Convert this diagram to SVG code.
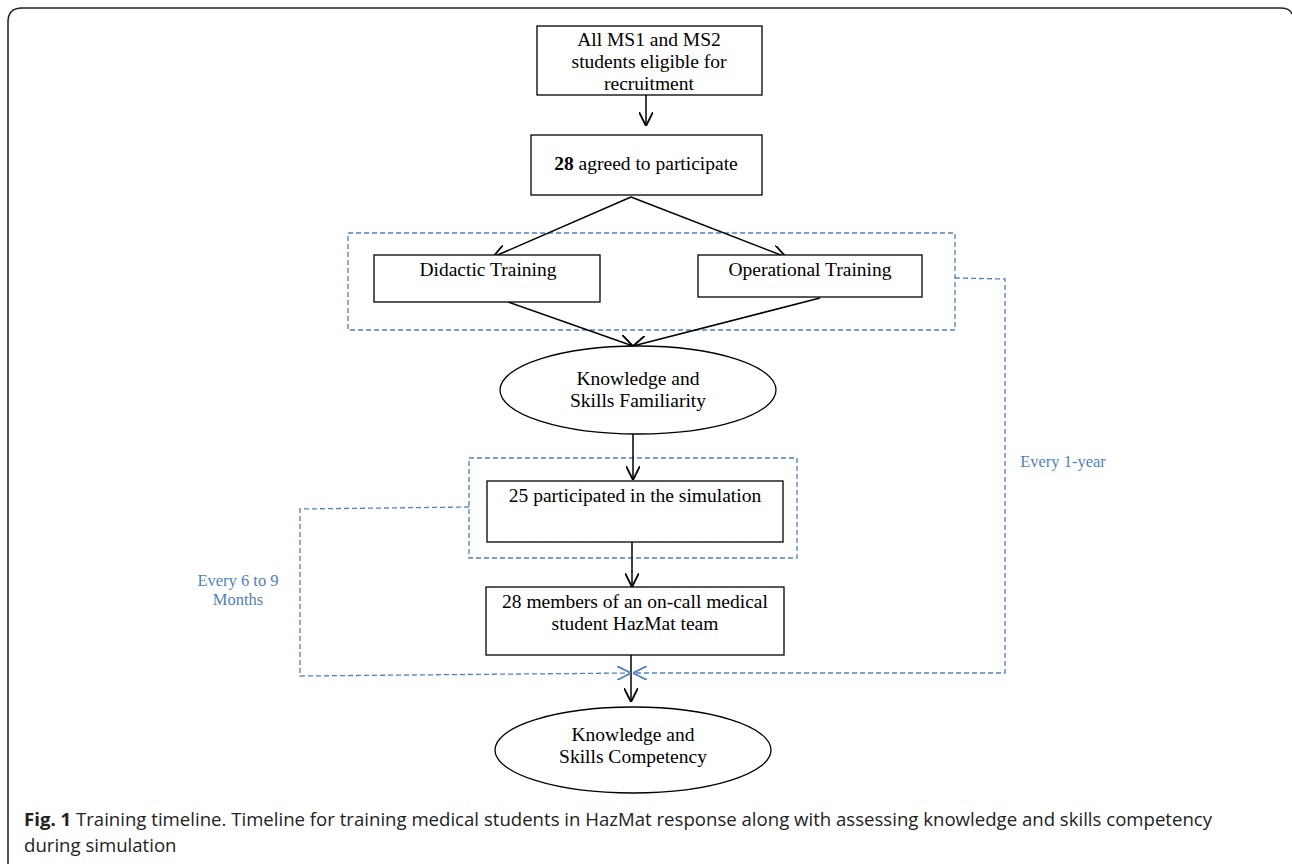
<svg xmlns="http://www.w3.org/2000/svg" width="1292" height="864" viewBox="0 0 1292 864">
<style>
.box{fill:#fff;stroke:#000;stroke-width:1.3}
.t{font-family:"Liberation Serif","DejaVu Serif",serif;font-size:19.5px;fill:#000;text-anchor:middle}
.bl{font-family:"Liberation Serif","DejaVu Serif",serif;font-size:16.5px;fill:#4f81bd;text-anchor:middle}
.dash{fill:none;stroke:#4f81bd;stroke-width:1.3;stroke-dasharray:5,3}
.ar{fill:none;stroke:#000;stroke-width:1.5}
.cap{font-family:"Open Sans","Liberation Sans",sans-serif;font-size:18.6px;fill:#222}
</style>
<defs>
<marker id="ah" markerWidth="14" markerHeight="14" refX="10" refY="5" orient="auto" markerUnits="userSpaceOnUse" viewBox="0 0 10 10">
<path d="M0,0 L10,5 L0,10" fill="none" stroke="#000" stroke-width="1.3"/>
</marker>
<marker id="ahb" markerWidth="14" markerHeight="14" refX="10" refY="5" orient="auto" markerUnits="userSpaceOnUse" viewBox="0 0 10 10">
<path d="M0,0 L10,5 L0,10" fill="none" stroke="#4f81bd" stroke-width="1.3"/>
</marker>
</defs>
<rect width="1292" height="864" fill="#fff"/>
<path d="M8,900 L8,22 Q8,8 22,8 L1280,8 Q1290,8 1292,14" fill="none" stroke="#222" stroke-width="1.5"/>

<g id="groups">
<rect x="348" y="233" width="607" height="97" class="dash"/>
<rect x="469" y="458" width="328" height="100" class="dash"/>
</g>

<g id="connectors">
<line x1="646" y1="95" x2="646" y2="126" class="ar" marker-end="url(#ah)"/>
<line x1="631" y1="197" x2="493" y2="257" class="ar" marker-end="url(#ah)"/>
<line x1="631" y1="197" x2="786" y2="257" class="ar" marker-end="url(#ah)"/>
<line x1="508" y1="302" x2="633" y2="346" class="ar" marker-end="url(#ah)"/>
<line x1="820" y1="298" x2="633" y2="346" class="ar" marker-end="url(#ah)"/>
<line x1="633" y1="434" x2="633" y2="480" class="ar" marker-end="url(#ah)"/>
<line x1="632" y1="542" x2="632" y2="587" class="ar" marker-end="url(#ah)"/>
<line x1="631" y1="655" x2="631" y2="702" class="ar" marker-end="url(#ah)"/>
<path d="M469,507 L300,509 L300,676 L631,673" class="dash" marker-end="url(#ahb)"/>
<path d="M955,278 L1005,279 L1005,673 L633,673" class="dash" marker-end="url(#ahb)"/>
</g>

<g id="n1">
<rect x="537" y="26" width="225" height="69" class="box"/>
<text class="t" x="649" y="46">All MS1 and MS2</text>
<text class="t" x="649" y="68">students eligible for</text>
<text class="t" x="649" y="90">recruitment</text>
</g>
<g id="n2">
<rect x="531" y="135" width="231" height="60" class="box"/>
<text class="t" x="646" y="170"><tspan font-weight="bold">28</tspan> agreed to participate</text>
</g>
<g id="n3">
<rect x="374" y="255" width="226" height="47" class="box"/>
<text class="t" x="488" y="276">Didactic Training</text>
</g>
<g id="n4">
<rect x="698" y="255" width="224" height="42" class="box"/>
<text class="t" x="810" y="276">Operational Training</text>
</g>
<g id="n5">
<ellipse cx="638" cy="390" rx="138" ry="44" class="box"/>
<text class="t" x="638" y="385">Knowledge and</text>
<text class="t" x="638" y="407">Skills Familiarity</text>
</g>
<g id="n6">
<rect x="487" y="481" width="296" height="61" class="box"/>
<text class="t" x="635" y="502">25 participated in the simulation</text>
</g>
<g id="n7">
<rect x="486" y="587" width="298" height="68" class="box"/>
<text class="t" x="635" y="608">28 members of an on-call medical</text>
<text class="t" x="635" y="630">student HazMat team</text>
</g>
<g id="n8">
<ellipse cx="633" cy="750" rx="138" ry="43" class="box"/>
<text class="t" x="633" y="741">Knowledge and</text>
<text class="t" x="633" y="763">Skills Competency</text>
</g>

<g id="labels">
<text class="bl" x="1063" y="467">Every 1-year</text>
<text class="bl" x="238" y="586">Every 6 to 9</text>
<text class="bl" x="238" y="605">Months</text>
</g>

<g id="caption">
<text class="cap" x="24" y="826"><tspan font-weight="bold">Fig. 1</tspan> Training timeline. Timeline for training medical students in HazMat response along with assessing knowledge and skills competency</text>
<text class="cap" x="24" y="852">during simulation</text>
</g>
</svg>
